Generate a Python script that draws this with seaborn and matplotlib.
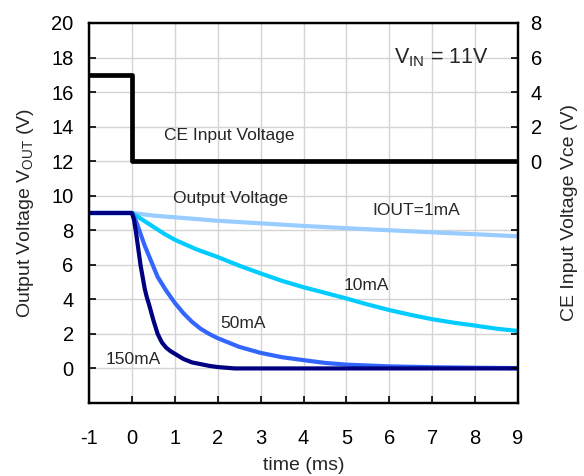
import pandas as pd
import numpy as np
import seaborn as sns
import matplotlib.pyplot as plt

sns.set_style("whitegrid")
plt.rcParams['font.family'] = ['Liberation Sans', 'DejaVu Sans']
plt.rcParams['mathtext.fontset'] = 'custom'
plt.rcParams['mathtext.rm'] = 'Liberation Sans'
plt.rcParams['axes.unicode_minus'] = False

# CE input voltage (right axis, V)
t_ce = [-1, 0, 0, 9]
v_ce = [5, 5, 0, 0]

# output voltage curves (left axis, V)
t_1ma = [-1, 0, 0.5, 1, 2, 3, 4, 5, 6, 7, 8, 9]
v_1ma = [9.0, 9.0, 8.85, 8.75, 8.55, 8.4, 8.25, 8.12, 8.0, 7.88, 7.77, 7.65]

t_10ma = [-1, 0, 0.25, 0.5, 0.75, 1, 1.5, 2, 2.5, 3, 3.5, 4, 4.5, 5, 5.5, 6, 6.5, 7, 7.5, 8, 8.5, 9]
v_10ma = [9.0, 9.0, 8.6, 8.2, 7.8, 7.45, 6.9, 6.45, 5.95, 5.5, 5.07, 4.7, 4.38, 4.05, 3.7, 3.38,
          3.1, 2.85, 2.65, 2.48, 2.3, 2.17]

t_50ma = [-1, 0, 0.1, 0.2, 0.3, 0.4, 0.5, 0.6, 0.8, 1.0, 1.2, 1.4, 1.6, 1.8, 2.0, 2.5, 3.0, 3.5,
          4.0, 4.5, 5.0, 6.0, 7.0, 8.0, 9.0]
v_50ma = [9.0, 9.0, 8.5, 7.8, 7.1, 6.5, 5.9, 5.3, 4.5, 3.8, 3.2, 2.7, 2.3, 2.0, 1.75, 1.25, 0.9,
          0.65, 0.48, 0.32, 0.22, 0.12, 0.07, 0.04, 0.02]

t_150ma = [-1, 0, 0.05, 0.1, 0.15, 0.2, 0.25, 0.3, 0.35, 0.4, 0.5, 0.6, 0.7, 0.8, 0.9, 1.0, 1.2,
           1.4, 1.6, 1.8, 2.0, 2.2, 2.4, 9.0]
v_150ma = [9.0, 9.0, 8.6, 7.8, 6.9, 6.0, 5.3, 4.6, 4.1, 3.7, 2.8, 2.0, 1.5, 1.2, 1.0, 0.85, 0.55,
           0.35, 0.25, 0.15, 0.08, 0.04, 0.0, 0.0]

series = ["1mA", "10mA", "50mA", "150mA"]
colors = ["#99ccff", "#00ccff", "#3366ff", "#000080"]

frames = []
for name, t, v in zip(series, [t_1ma, t_10ma, t_50ma, t_150ma], [v_1ma, v_10ma, v_50ma, v_150ma]):
    frames.append(pd.DataFrame({"t": t, "v": v, "Iout": name}))
df = pd.concat(frames, ignore_index=True)

fig = plt.figure(figsize=(5.84, 4.76), dpi=100)
ax = fig.add_axes([0.1524, 0.1534, 0.7346, 0.7983])

sns.lineplot(data=df, x="t", y="v", hue="Iout", palette=dict(zip(series, colors)),
             estimator=None, sort=False, linewidth=3.0, legend=False, ax=ax)

ax.set_xlim(-1, 9)
ax.set_ylim(-2, 20)
ax.set_xticks(range(-1, 10))
ax.set_yticks(range(-2, 21, 2))
ax.set_yticklabels([""] + [str(v) for v in range(0, 21, 2)])
ax.grid(True, color="#d4d4d4", lw=1.0)
ax.tick_params(direction="in", length=5, width=1.2, labelsize=14.5, colors="black")
ax.tick_params(axis="x", pad=19)
ax.tick_params(axis="y", pad=11, left=True)
ax.tick_params(axis="x", bottom=True)
for s in ax.spines.values():
    s.set_color("black")
    s.set_linewidth(1.6)

ax.set_xlabel("time (ms)", fontsize=14, labelpad=6)
ax.set_ylabel("Output Voltage V$_{\\mathregular{OUT}}$ (V)", fontsize=14, labelpad=11)

# CE input on the twin axis
ax2 = ax.twinx()
sns.lineplot(x=t_ce, y=v_ce, color="black", linewidth=3.4, estimator=None, sort=False, ax=ax2)
ax2.set_ylim(-14, 8)
ax2.set_yticks(range(-14, 9, 2))
ax2.set_yticklabels([""] * 7 + [str(v) for v in range(0, 9, 2)])
ax2.grid(False)
ax2.tick_params(direction="in", length=5, width=1.2, labelsize=14.5, pad=9, right=True, colors="black")
ax2.set_ylabel("CE Input Voltage Vce (V)", fontsize=14, labelpad=14)
for s in ax2.spines.values():
    s.set_color("black")
    s.set_linewidth(1.6)

ax.text(0.74, 13.5, "CE Input Voltage", fontsize=12.5, va="center")
ax.text(0.95, 9.86, "Output Voltage", fontsize=12.5, va="center")
ax.text(5.61, 9.17, "IOUT=1mA", fontsize=12.5, va="center")
ax.text(4.94, 4.82, "10mA", fontsize=12.5, va="center")
ax.text(2.06, 2.6, "50mA", fontsize=12.5, va="center")
ax.text(-0.62, 0.52, "150mA", fontsize=12.5, va="center")
ax.text(6.1, 18.0, "V$_{\\mathregular{IN}}$ = 11V", fontsize=15.5, va="center")

plt.savefig("out.png", dpi=100)
